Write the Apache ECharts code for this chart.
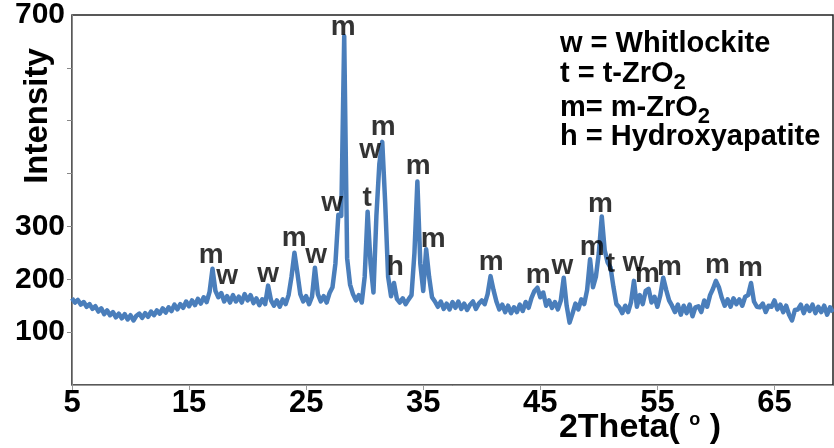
<!DOCTYPE html>
<html><head><meta charset="utf-8">
<script src="https://cdn.jsdelivr.net/npm/echarts@6/dist/echarts.min.js"></script>
<style>html,body{margin:0;padding:0;background:#fff}#c{width:834px;height:448px}</style>
</head><body><div id="c"></div>
<script>
// XRD pattern, sampled every 0.25 degree 2Theta starting at 5
const thetaStart = 5;
const thetaStep = 0.25;
const intensity = [
  164,156,161,152, // 5
  157,148,153,144, // 6
  149,139,145,134, // 7
  141,132,138,128, // 8
  135,126,134,124, // 9
  132,122,131,135, // 10
  127,136,129,139, // 11
  132,141,135,145, // 12
  137,147,140,152, // 13
  143,153,146,158, // 14
  149,160,151,163, // 15
  154,166,157,176, // 16
  220,178,166,174, // 17
  158,168,156,170, // 18
  158,167,156,172, // 19
  160,170,155,164, // 20
  151,162,153,188, // 21
  160,150,160,148, // 22
  162,153,170,205, // 23
  250,212,172,158, // 24
  168,153,167,222, // 25
  172,158,168,156, // 26
  174,185,230,322, // 27
  320,660,240,190, // 28
  172,160,170,156, // 29
  205,328,230,175, // 30
  320,418,460,345, // 31
  205,168,193,163, // 32
  156,164,153,162, // 33
  170,250,385,230, // 34
  178,257,205,166, // 35
  158,148,158,144, // 36
  154,143,157,146, // 37
  158,144,154,142, // 38
  152,158,144,154, // 39
  160,153,172,206, // 40
  180,158,143,152, // 41
  138,150,136,147, // 42
  138,152,140,157, // 43
  146,165,178,184, // 44
  166,175,150,160, // 45
  146,157,143,160, // 46
  203,150,118,135, // 47
  154,143,162,153, // 48
  180,238,185,205, // 49
  250,319,255,232, // 50
  222,185,153,147, // 51
  136,150,138,157, // 52
  197,148,170,153, // 53
  178,182,156,167, // 54
  148,170,203,180, // 55
  160,150,138,152, // 56
  133,150,136,152, // 57
  130,147,149,138, // 58
  160,148,170,182, // 59
  197,185,165,150, // 60
  162,148,164,153, // 61
  162,150,167,170, // 62
  193,158,148,147, // 63
  154,138,150,148, // 64
  160,143,152,138, // 65
  150,133,122,142, // 66
  143,152,136,150, // 67
  140,152,136,148, // 68
  138,150,133,147, // 69
  138              // 70
];

const xTickLabels = [5, 15, 25, 35, 45, 55, 65];
const yTickLabels = [100, 200, 300, 700];
const yTickMarks = [100, 200, 300, 400, 500, 600];

// phase tags above peaks
const peakTags  = ['m','w','w','m','w','w','m','t','w','m','h','m','m','m','m','w','m','m','t','w','m','m','m','m'];
const peakTheta = [16.88,18.25,21.75,23.97,25.85,27.22,28.16,30.21,30.47,31.58,32.61,34.57,35.85,40.81,44.83,46.88,49.44,50.13,50.98,52.95,54.15,56.03,60.13,62.95];
const peakLevel = [246,205,210,278,246,343,677,353,445,488,223,413,276,233,208,225,261,342,229,231,210,223,227,221];

const legendLines = ['w = Whitlockite', 't = t-ZrO{s|2}', 'm= m-ZrO{s|2}', 'h = Hydroxyapatite'];

const FF = '"Liberation Sans", Arial, sans-serif';
const theta = intensity.map((v, i) => thetaStart + i * thetaStep);
const lineData = intensity.map((v, i) => [theta[i], v]);

const chart = echarts.init(document.getElementById('c'), null, {renderer: 'canvas'});

const legendY = [44, 74, 108, 137];
const graphics = legendLines.map((t, i) => ({
  type: 'text', x: 560, y: legendY[i], z: 10,
  style: {
    text: t, fontSize: 29, fontWeight: 'bold', fontFamily: FF, fill: '#000',
    align: 'left', verticalAlign: 'middle',
    rich: { s: { fontSize: 22, fontWeight: 'bold', fontFamily: FF, fill: '#000', padding: [18, 0, 0, 0] } }
  }
}));
graphics.push({
  type: 'text', x: 38, y: 116, rotation: Math.PI / 2, z: 10,
  style: { text: 'Intensity', fontSize: 33, fontWeight: 'bold', fontFamily: FF, fill: '#000', align: 'center', verticalAlign: 'middle' }
});
graphics.push({
  type: 'text', x: 640, y: 428, z: 10,
  style: {
    text: '2Theta( {s|o} )', fontSize: 34, fontWeight: 'bold', fontFamily: FF, fill: '#000',
    align: 'center', verticalAlign: 'middle',
    rich: { s: { fontSize: 18, fontWeight: 'bold', fontFamily: FF, fill: '#000', padding: [0, 0, 16, 0] } }
  }
});

chart.setOption({
  animation: false,
  backgroundColor: '#fff',
  grid: { left: 72, top: 12, right: 1, bottom: 63, show: true, borderColor: '#222', borderWidth: 1.5, backgroundColor: 'transparent' },
  xAxis: {
    type: 'value', min: 5, max: 70, interval: 5,
    axisLine: { show: true, lineStyle: { color: '#999', width: 1 } },
    axisTick: { show: true, length: 5, lineStyle: { color: '#999' }, customValues: xTickLabels },
    axisLabel: { customValues: xTickLabels, margin: 3, fontSize: 31, fontWeight: 'bold', fontFamily: FF, color: '#000' },
    splitLine: { show: false }
  },
  yAxis: {
    type: 'value', min: 0, max: 700, interval: 100,
    axisLine: { show: true, lineStyle: { color: '#888', width: 1 } },
    axisTick: { show: true, length: 5, lineStyle: { color: '#888' }, customValues: yTickMarks },
    axisLabel: { customValues: yTickLabels, margin: 7, fontSize: 30, fontWeight: 'bold', fontFamily: FF, color: '#000' },
    splitLine: { show: false }
  },
  graphic: graphics,
  series: [
    {
      type: 'line', data: lineData, showSymbol: false, symbol: 'none', smooth: false,
      lineStyle: { color: '#4A7EBB', width: 4.5, join: 'round' }, z: 2, silent: true
    },
    {
      type: 'scatter', silent: true, z: 5, symbolSize: 1,
      itemStyle: { color: 'rgba(0,0,0,0)' },
      data: peakTags.map((t, i) => ({ value: [peakTheta[i], peakLevel[i]], name: t })),
      label: { show: true, position: 'inside', formatter: p => p.name, fontSize: 28, fontWeight: 'bold', fontFamily: FF, color: '#000' }
    }
  ]
});
</script></body></html>
